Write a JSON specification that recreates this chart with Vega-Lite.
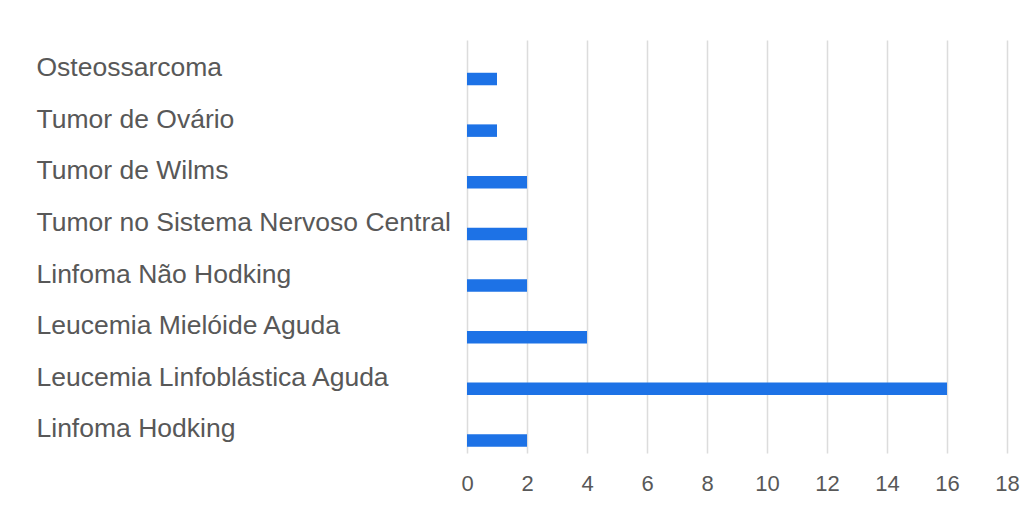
{
  "$schema": "https://vega.github.io/schema/vega-lite/v6.json",
  "autosize": {"type": "none"},
  "width": 540,
  "height": 413,
  "padding": {"left": 467, "top": 40, "right": 23, "bottom": 60},
  "background": "#ffffff",
  "data": {
    "values": [
      {"tipo": "Osteossarcoma", "casos": 1},
      {"tipo": "Tumor de Ovário", "casos": 1},
      {"tipo": "Tumor de Wilms", "casos": 2},
      {"tipo": "Tumor no Sistema Nervoso Central", "casos": 2},
      {"tipo": "Linfoma Não Hodking", "casos": 2},
      {"tipo": "Leucemia Mielóide Aguda", "casos": 4},
      {"tipo": "Leucemia Linfoblástica Aguda", "casos": 16},
      {"tipo": "Linfoma Hodking", "casos": 2}
    ]
  },
  "mark": {"type": "bar", "height": 12.5, "yOffset": 13.2, "color": "#1d72e6"},
  "encoding": {
    "y": {
      "field": "tipo",
      "type": "nominal",
      "sort": null,
      "scale": {"paddingInner": 0, "paddingOuter": 0},
      "axis": {
        "title": null,
        "domain": false,
        "ticks": false,
        "tickSize": 0,
        "labelAlign": "left",
        "labelBaseline": "middle",
        "labelPadding": 431,
        "labelOffset": 2.3,
        "labelLimit": 0,
        "labelFont": "Liberation Sans",
        "labelFontSize": 26.5,
        "labelColor": "#585858"
      }
    },
    "x": {
      "field": "casos",
      "type": "quantitative",
      "scale": {"domain": [0, 18], "nice": false},
      "axis": {
        "title": null,
        "values": [0, 2, 4, 6, 8, 10, 12, 14, 16, 18],
        "domain": false,
        "ticks": false,
        "tickSize": 0,
        "grid": true,
        "gridColor": "#dcdcdc",
        "gridWidth": 1.5,
        "labelFlush": false,
        "labelOverlap": false,
        "labelPadding": 20,
        "labelFont": "Liberation Sans",
        "labelFontSize": 22,
        "labelColor": "#585858"
      }
    }
  },
  "config": {
    "view": {"stroke": null}
  }
}
